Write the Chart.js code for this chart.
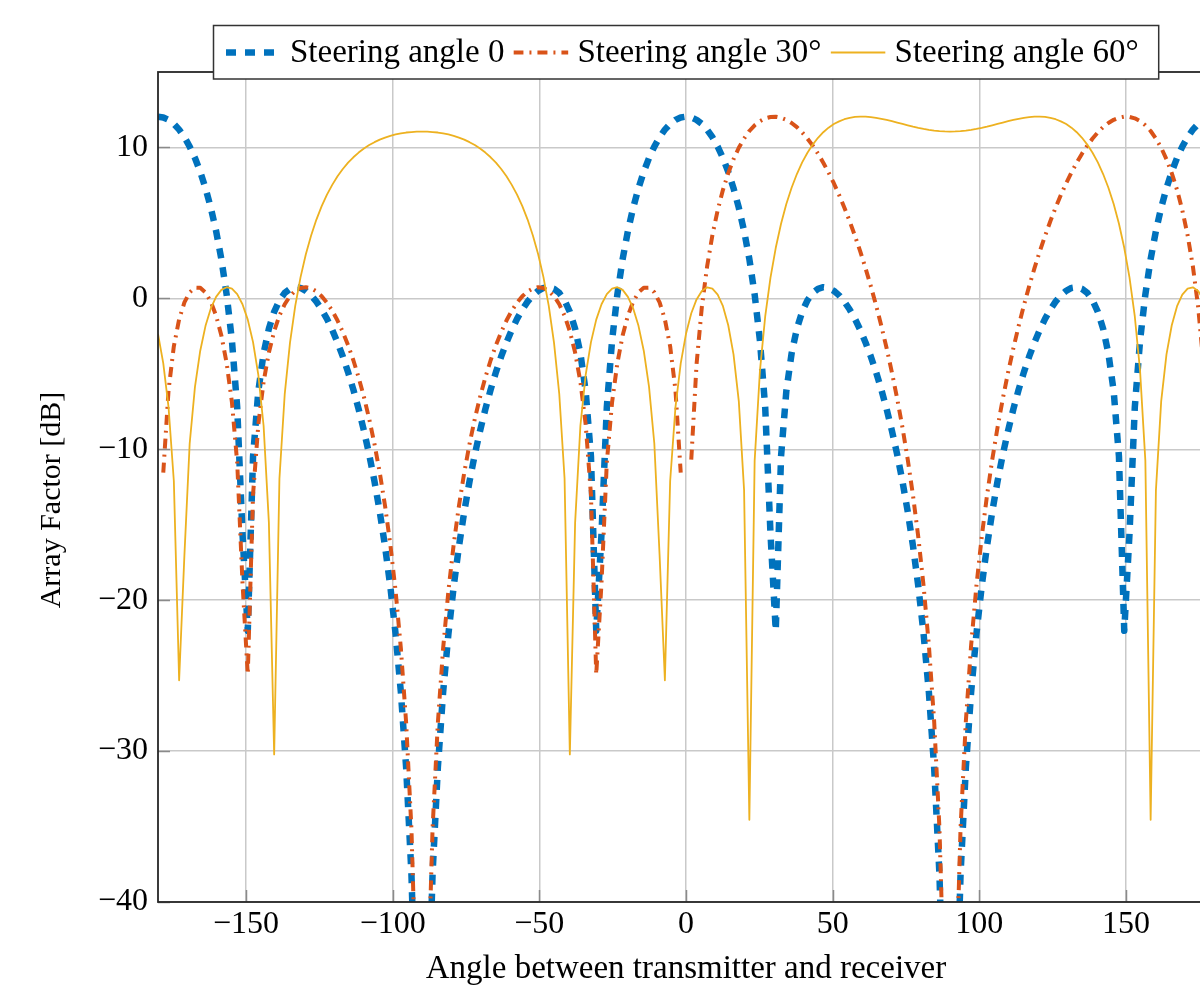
<!DOCTYPE html>
<html>
<head>
<meta charset="utf-8">
<script src="https://cdn.jsdelivr.net/npm/chart.js@4/dist/chart.umd.min.js"></script>
<style>
  html, body { margin: 0; padding: 0; background: #fff; overflow: hidden; }
  #wrap { width: 1200px; height: 989px; overflow: hidden; position: relative; }
  canvas { display: block; }
</style>
</head>
<body>
<div id="wrap"><canvas id="c" width="1240" height="989" style="width:1240px;height:989px"></canvas></div>
<script>
// Angle between transmitter and receiver (degrees)
const angles = [
  -180, -178.2, -176.4, -174.6, -172.8, -171, -169.2, -167.4, -165.6, -163.8,
  -162, -160.2, -158.4, -156.6, -154.8, -153, -151.2, -149.4, -147.6, -145.8,
  -144, -142.2, -140.4, -138.6, -136.8, -135, -133.2, -131.4, -129.6, -127.8,
  -126, -124.2, -122.4, -120.6, -118.8, -117, -115.2, -113.4, -111.6, -109.8,
  -108, -106.2, -104.4, -102.6, -100.8, -99, -97.2, -95.4, -93.6, -91.8,
  -90, -88.2, -86.4, -84.6, -82.8, -81, -79.2, -77.4, -75.6, -73.8,
  -72, -70.2, -68.4, -66.6, -64.8, -63, -61.2, -59.4, -57.6, -55.8,
  -54, -52.2, -50.4, -48.6, -46.8, -45, -43.2, -41.4, -39.6, -37.8,
  -36, -34.2, -32.4, -30.6, -28.8, -27, -25.2, -23.4, -21.6, -19.8,
  -18, -16.2, -14.4, -12.6, -10.8, -9, -7.2, -5.4, -3.6, -1.8,
  0,
  1.8, 3.6, 5.4, 7.2, 9, 10.8, 12.6, 14.4, 16.2, 18,
  19.8, 21.6, 23.4, 25.2, 27, 28.8, 30.6, 32.4, 34.2, 36,
  37.8, 39.6, 41.4, 43.2, 45, 46.8, 48.6, 50.4, 52.2, 54,
  55.8, 57.6, 59.4, 61.2, 63, 64.8, 66.6, 68.4, 70.2, 72,
  73.8, 75.6, 77.4, 79.2, 81, 82.8, 84.6, 86.4, 88.2, 90,
  91.8, 93.6, 95.4, 97.2, 99, 100.8, 102.6, 104.4, 106.2, 108,
  109.8, 111.6, 113.4, 115.2, 117, 118.8, 120.6, 122.4, 124.2, 126,
  127.8, 129.6, 131.4, 133.2, 135, 136.8, 138.6, 140.4, 142.2, 144,
  145.8, 147.6, 149.4, 151.2, 153, 154.8, 156.6, 158.4, 160.2, 162,
  163.8, 165.6, 167.4, 169.2, 171, 172.8, 174.6, 176.4, 178.2, 180
];

// Array factor [dB], steering angle 0
const steering0 = [
  12.04, 11.99, 11.83, 11.56, 11.18, 10.68, 10.06, 9.30, 8.39, 7.30,
  6.01, 4.47, 2.60, 0.26, -2.79, -7.22, -15.57, -22.03, -10.48, -6.15,
  -3.65, -2.01, -0.89, -0.13, 0.36, 0.63, 0.74, 0.69, 0.50, 0.20,
  -0.22, -0.74, -1.36, -2.09, -2.92, -3.85, -4.89, -6.05, -7.34, -8.77,
  -10.35, -12.13, -14.14, -16.43, -19.09, -22.24, -26.10, -31.10, -38.14, -50.18,
  null,
  -50.18, -38.14, -31.10, -26.10, -22.24, -19.09, -16.43, -14.14, -12.13, -10.35,
  -8.77, -7.34, -6.05, -4.89, -3.85, -2.92, -2.09, -1.36, -0.74, -0.22,
  0.20, 0.50, 0.69, 0.74, 0.63, 0.36, -0.13, -0.89, -2.01, -3.65,
  -6.15, -10.48, -22.03, -15.57, -7.22, -2.79, 0.26, 2.60, 4.47, 6.01,
  7.30, 8.39, 9.30, 10.06, 10.68, 11.18, 11.56, 11.83, 11.99,
  12.04,
  11.99, 11.83, 11.56, 11.18, 10.68, 10.06, 9.30, 8.39, 7.30, 6.01,
  4.47, 2.60, 0.26, -2.79, -7.22, -15.57, -22.03, -10.48, -6.15, -3.65,
  -2.01, -0.89, -0.13, 0.36, 0.63, 0.74, 0.69, 0.50, 0.20, -0.22,
  -0.74, -1.36, -2.09, -2.92, -3.85, -4.89, -6.05, -7.34, -8.77, -10.35,
  -12.13, -14.14, -16.43, -19.09, -22.24, -26.10, -31.10, -38.14, -50.18, null,
  -50.18, -38.14, -31.10, -26.10, -22.24, -19.09, -16.43, -14.14, -12.13, -10.35,
  -8.77, -7.34, -6.05, -4.89, -3.85, -2.92, -2.09, -1.36, -0.74, -0.22,
  0.20, 0.50, 0.69, 0.74, 0.63, 0.36, -0.13, -0.89, -2.01, -3.65,
  -6.15, -10.48, -22.03, -15.57, -7.22, -2.79, 0.26, 2.60, 4.47, 6.01,
  7.30, 8.39, 9.30, 10.06, 10.68, 11.18, 11.56, 11.83, 11.99, 12.04
];

// Array factor [dB], steering angle 30°
const steering30 = [
  null, -11.55, -6.07, -3.18, -1.39, -0.27, 0.40, 0.71, 0.70, 0.39,
  -0.22, -1.14, -2.46, -4.29, -6.88, -10.88, -18.83, -24.92, -13.01, -8.36,
  -5.53, -3.59, -2.18, -1.14, -0.39, 0.15, 0.50, 0.69, 0.74, 0.66,
  0.46, 0.14, -0.29, -0.82, -1.47, -2.23, -3.10, -4.10, -5.24, -6.53,
  -7.99, -9.65, -11.55, -13.74, -16.31, -19.39, -23.20, -28.15, -35.15, -47.18,
  null,
  -47.18, -35.15, -28.15, -23.20, -19.39, -16.31, -13.74, -11.55, -9.65, -7.99,
  -6.53, -5.24, -4.10, -3.10, -2.23, -1.47, -0.82, -0.29, 0.14, 0.46,
  0.66, 0.74, 0.69, 0.50, 0.15, -0.39, -1.14, -2.18, -3.59, -5.53,
  -8.36, -13.01, -24.92, -18.83, -10.88, -6.88, -4.29, -2.46, -1.14, -0.22,
  0.39, 0.70, 0.71, 0.40, -0.27, -1.39, -3.18, -6.07, -11.55,
  null,
  -10.69, -4.35, -0.57, 2.12, 4.19, 5.84, 7.19, 8.30, 9.22, 9.98,
  10.59, 11.09, 11.47, 11.74, 11.93, 12.02, 12.04, 11.97, 11.83, 11.62,
  11.35, 11.00, 10.59, 10.12, 9.59, 8.99, 8.34, 7.63, 6.85, 6.01,
  5.11, 4.14, 3.11, 2.00, 0.81, -0.46, -1.83, -3.31, -4.91, -6.65,
  -8.56, -10.69, -13.08, -15.83, -19.06, -22.99, -28.03, -35.10, -47.16, null,
  -47.16, -35.10, -28.03, -22.99, -19.06, -15.83, -13.08, -10.69, -8.56, -6.65,
  -4.91, -3.31, -1.83, -0.46, 0.81, 2.00, 3.11, 4.14, 5.11, 6.01,
  6.85, 7.63, 8.34, 8.99, 9.59, 10.12, 10.59, 11.00, 11.35, 11.62,
  11.83, 11.97, 12.04, 12.02, 11.93, 11.74, 11.47, 11.09, 10.59, 9.98,
  9.22, 8.30, 7.19, 5.84, 4.19, 2.12, -0.57, -4.35, -10.69, null
];

// Array factor [dB], steering angle 60°
const steering60 = [
  -2.35, -4.31, -7.23, -12.10, -25.31, -17.03, -9.62, -5.87, -3.47, -1.82,
  -0.67, 0.10, 0.56, 0.74, 0.64, 0.28, -0.39, -1.41, -2.90, -5.07,
  -8.44, -14.86, -30.22, -11.94, -6.35, -2.93, -0.48, 1.41, 2.92, 4.17,
  5.22, 6.11, 6.87, 7.52, 8.09, 8.57, 8.99, 9.35, 9.66, 9.93,
  10.16, 10.35, 10.52, 10.65, 10.77, 10.86, 10.93, 10.99, 11.02, 11.05,
  11.05,
  11.05, 11.02, 10.99, 10.93, 10.86, 10.77, 10.65, 10.52, 10.35, 10.16,
  9.93, 9.66, 9.35, 8.99, 8.57, 8.09, 7.52, 6.87, 6.11, 5.22,
  4.17, 2.92, 1.41, -0.48, -2.93, -6.35, -11.94, -30.22, -14.86, -8.44,
  -5.07, -2.90, -1.41, -0.39, 0.28, 0.64, 0.74, 0.56, 0.10, -0.67,
  -1.82, -3.47, -5.87, -9.62, -17.03, -25.31, -12.10, -7.23, -4.31,
  -2.35,
  -0.99, -0.07, 0.49, 0.73, 0.65, 0.25, -0.52, -1.78, -3.71, -6.81,
  -12.71, -34.55, -10.77, -4.81, -1.20, 1.37, 3.35, 4.94, 6.25, 7.33,
  8.24, 9.01, 9.65, 10.19, 10.64, 11.01, 11.31, 11.55, 11.73, 11.87,
  11.96, 12.02, 12.04, 12.04, 12.01, 11.96, 11.90, 11.82, 11.74, 11.65,
  11.56, 11.47, 11.38, 11.30, 11.23, 11.17, 11.12, 11.08, 11.06, 11.05,
  11.06, 11.08, 11.12, 11.17, 11.23, 11.30, 11.38, 11.47, 11.56, 11.65,
  11.74, 11.82, 11.90, 11.96, 12.01, 12.04, 12.04, 12.02, 11.96, 11.87,
  11.73, 11.55, 11.31, 11.01, 10.64, 10.19, 9.65, 9.01, 8.24, 7.33,
  6.25, 4.94, 3.35, 1.37, -1.20, -4.81, -10.77, -34.55, -12.71, -6.81,
  -3.71, -1.78, -0.52, 0.25, 0.65, 0.73, 0.49, -0.07, -0.99, -2.35
];

const seriesLabels = ['Steering angle 0', 'Steering angle 30°', 'Steering angle 60°'];
const xTicks = [-150, -100, -50, 0, 50, 100, 150];
const yTicks = [-40, -30, -20, -10, 0, 10];
const xTitle = 'Angle between transmitter and receiver';
const yTitle = 'Array Factor [dB]';

const FONT = "'Liberation Serif', 'Times New Roman', Times, serif";
const fmt = v => (v < 0 ? '\u2212' + Math.abs(v) : String(v));
const toXY = arr => angles.map((a, i) => ({ x: a, y: arr[i] }));

const styles = [
  { color: '#0072BD', width: 6.5, dash: [10, 9], order: 3 },
  { color: '#D95319', width: 4, dash: [10, 6, 2, 6], order: 2 },
  { color: '#EDB120', width: 1.8, dash: [], order: 1 }
];
const seriesValues = [steering0, steering30, steering60];

const frameLegend = {
  id: 'frameLegend',
  afterDatasetsDraw(chart) {
    const { ctx, chartArea: a, scales } = chart;
    ctx.save();
    ctx.strokeStyle = '#8a8a8a';
    ctx.lineWidth = 1.5;
    xTicks.forEach(v => {
      const px = Math.round(scales.x.getPixelForValue(v)) + 0.5;
      ctx.beginPath(); ctx.moveTo(px, a.bottom); ctx.lineTo(px, a.bottom - 12); ctx.stroke();
    });
    yTicks.forEach(v => {
      const py = Math.round(scales.y.getPixelForValue(v)) + 0.5;
      ctx.beginPath(); ctx.moveTo(a.left, py); ctx.lineTo(a.left + 12, py); ctx.stroke();
    });
    ctx.strokeStyle = '#262626';
    ctx.lineWidth = 1.8;
    ctx.strokeRect(a.left, a.top, a.right - a.left, a.bottom - a.top);
    // y axis title
    ctx.save();
    ctx.translate(52, 500);
    ctx.rotate(-Math.PI / 2);
    ctx.font = '30px ' + FONT;
    ctx.fillStyle = '#000';
    ctx.textAlign = 'center';
    ctx.textBaseline = 'middle';
    ctx.fillText(yTitle, 0, 0);
    ctx.restore();
    ctx.restore();
  },
  afterDraw(chart) {
    const { ctx } = chart;
    ctx.save();
    ctx.font = '33px ' + FONT;
    const sampleLen = 55, gap = 9, startX = 226, yLine = 52.5, yText = 62;
    let total = startX;
    chart.data.datasets.forEach(ds => {
      total += sampleLen + gap + ctx.measureText(ds.label).width + gap;
    });
    const boxL = 213.5, boxT = 25.5, boxR = total - gap + 20, boxB = 79;
    ctx.fillStyle = '#ffffff';
    ctx.fillRect(boxL, boxT, boxR - boxL, boxB - boxT);
    ctx.strokeStyle = '#333333';
    ctx.lineWidth = 1.5;
    ctx.strokeRect(boxL, boxT, boxR - boxL, boxB - boxT);
    let x = startX;
    chart.data.datasets.forEach(ds => {
      ctx.save();
      ctx.beginPath();
      ctx.rect(x, yLine - 10, sampleLen, 20);
      ctx.clip();
      ctx.strokeStyle = ds.borderColor;
      ctx.lineWidth = ds.borderWidth;
      ctx.setLineDash(ds.borderDash || []);
      ctx.lineCap = 'butt';
      ctx.beginPath(); ctx.moveTo(x, yLine); ctx.lineTo(x + sampleLen, yLine); ctx.stroke();
      ctx.restore();
      x += sampleLen + gap;
      ctx.fillStyle = '#000';
      ctx.textBaseline = 'alphabetic';
      ctx.textAlign = 'left';
      ctx.fillText(ds.label, x, yText);
      x += ctx.measureText(ds.label).width + gap;
    });
    ctx.restore();
  }
};

Chart.defaults.font.family = FONT;
Chart.defaults.color = '#000';

new Chart(document.getElementById('c'), {
  type: 'line',
  data: {
    datasets: seriesValues.map((vals, i) => ({
      label: seriesLabels[i],
      data: toXY(vals),
      borderColor: styles[i].color,
      backgroundColor: styles[i].color,
      borderWidth: styles[i].width,
      borderDash: styles[i].dash,
      borderCapStyle: 'butt',
      borderJoinStyle: 'round',
      pointRadius: 0,
      tension: 0,
      fill: false,
      spanGaps: false,
      clip: 0,
      order: styles[i].order
    }))
  },
  options: {
    responsive: false,
    devicePixelRatio: 1,
    animation: false,
    layout: { padding: { top: 72, right: 26, bottom: 0, left: 0 } },
    plugins: { legend: { display: false }, tooltip: { enabled: false } },
    scales: {
      x: {
        type: 'linear',
        min: -180,
        max: 180,
        afterBuildTicks: s => { s.ticks = xTicks.map(v => ({ value: v })); },
        afterFit: s => { s.height = 87; },
        ticks: { font: { size: 32 }, padding: 3, maxRotation: 0, autoSkip: false, callback: v => fmt(v) },
        grid: { color: '#c9c9c9', lineWidth: 1.5, drawTicks: false },
        border: { display: false },
        title: { display: true, text: xTitle, font: { size: 33 }, padding: { top: 0, bottom: 0 } }
      },
      y: {
        type: 'linear',
        min: -40,
        max: 15,
        afterBuildTicks: s => { s.ticks = yTicks.map(v => ({ value: v })); },
        afterFit: s => { s.width = 158; },
        ticks: { font: { size: 32 }, padding: 10, autoSkip: false, callback: v => fmt(v) },
        grid: { color: '#c9c9c9', lineWidth: 1.5, drawTicks: false },
        border: { display: false },
        title: { display: false }
      }
    }
  },
  plugins: [frameLegend]
});
</script>
</body>
</html>
